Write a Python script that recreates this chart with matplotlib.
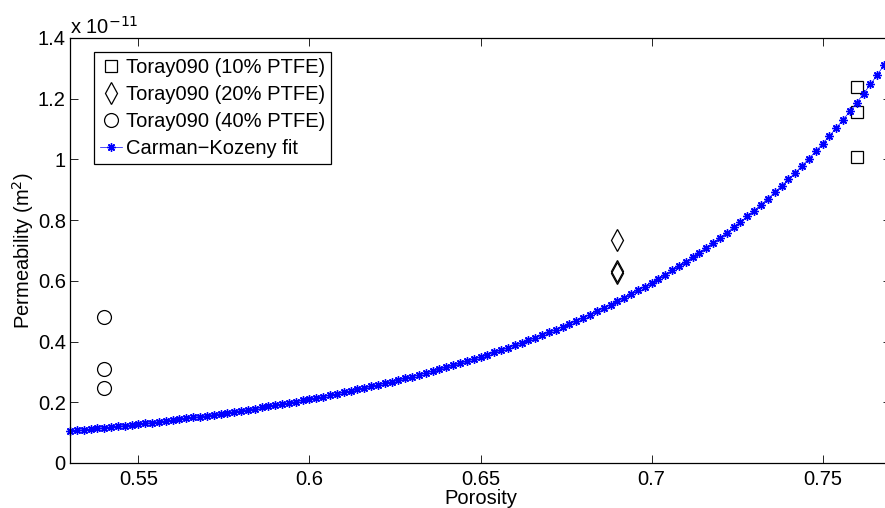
import numpy as np
import matplotlib.pyplot as plt

plt.rcParams["font.family"] = ["Liberation Sans", "DejaVu Sans"]

# MEASURED PERMEABILITY (units of 1e-11 m^2)
por_10 = [0.76, 0.76, 0.76]
perm_10 = [1.239, 1.157, 1.009]  # Toray090 10% PTFE
por_20 = [0.69, 0.69, 0.69]
perm_20 = [0.733, 0.633, 0.627]  # Toray090 20% PTFE
por_40 = [0.54, 0.54, 0.54]
perm_40 = [0.482, 0.309, 0.246]  # Toray090 40% PTFE

# CARMAN-KOZENY FIT (porosity step 0.002)
fit_por = np.linspace(0.53, 0.77, 121)
fit_perm = [
    0.1050, 0.1071, 0.1093, 0.1114, 0.1137, 0.1159, 0.1183, 0.1206, 0.1230, 0.1255,
    0.1280, 0.1306, 0.1332, 0.1358, 0.1386, 0.1413, 0.1442, 0.1470, 0.1500, 0.1530,
    0.1561, 0.1592, 0.1624, 0.1656, 0.1689, 0.1723, 0.1758, 0.1793, 0.1829, 0.1866,
    0.1904, 0.1942, 0.1981, 0.2021, 0.2062, 0.2103, 0.2146, 0.2189, 0.2234, 0.2279,
    0.2325, 0.2372, 0.2421, 0.2470, 0.2520, 0.2571, 0.2624, 0.2678, 0.2732, 0.2788,
    0.2846, 0.2904, 0.2964, 0.3025, 0.3088, 0.3151, 0.3217, 0.3283, 0.3352, 0.3421,
    0.3493, 0.3566, 0.3640, 0.3717, 0.3795, 0.3875, 0.3957, 0.4040, 0.4126, 0.4213,
    0.4303, 0.4395, 0.4489, 0.4585, 0.4683, 0.4784, 0.4887, 0.4993, 0.5101, 0.5212,
    0.5326, 0.5442, 0.5562, 0.5684, 0.5809, 0.5938, 0.6069, 0.6204, 0.6343, 0.6485,
    0.6631, 0.6780, 0.6933, 0.7090, 0.7252, 0.7417, 0.7587, 0.7762, 0.7941, 0.8125,
    0.8314, 0.8508, 0.8708, 0.8912, 0.9123, 0.9339, 0.9562, 0.9791, 1.0026, 1.0268,
    1.0517, 1.0773, 1.1036, 1.1307, 1.1586, 1.1874, 1.2170, 1.2475, 1.2789, 1.3112,
    1.3446,
]

x_ticks = [0.55, 0.6, 0.65, 0.7, 0.75]
x_ticklabels = ["0.55", "0.6", "0.65", "0.7", "0.75"]
y_ticks = [0, 0.2, 0.4, 0.6, 0.8, 1.0, 1.2, 1.4]
y_ticklabels = ["0", "0.2", "0.4", "0.6", "0.8", "1", "1.2", "1.4"]

fig = plt.figure(figsize=(8.85, 5.08), dpi=100)
ax = fig.add_axes([0.0791, 0.0886, 0.9277, 0.8366])

ax.plot(por_10, perm_10, "s", mfc="none", mec="black", ms=8, mew=0.9,
        label="Toray090 (10% PTFE)", clip_on=False)
ax.plot(por_20, perm_20, "d", mfc="none", mec="black", ms=11, mew=0.9,
        label="Toray090 (20% PTFE)", clip_on=False)
ax.plot(por_40, perm_40, "o", mfc="none", mec="black", ms=10, mew=0.9,
        label="Toray090 (40% PTFE)", clip_on=False)
ax.plot(fit_por, fit_perm, "-", marker=(8, 2, 0), color="blue", lw=0.5,
        ms=6, mew=1.0, label="Carman\u2212Kozeny fit", clip_on=False)

ax.set_xlim(0.53, 0.77)
ax.set_ylim(0, 1.4)
ax.set_xticks(x_ticks)
ax.set_xticklabels(x_ticklabels)
ax.set_yticks(y_ticks)
ax.set_yticklabels(y_ticklabels)
ax.tick_params(direction="in", length=6, width=0.6, labelsize=14.5,
               top=True, right=True)
ax.tick_params(axis="x", pad=5)
ax.tick_params(axis="y", pad=3)
for sp in ax.spines.values():
    sp.set_linewidth(0.9)

ax.text(0.0, 1.0, r"x 10$^{-11}$", transform=ax.transAxes,
        fontsize=14.5, ha="left", va="bottom")

ax.set_xlabel("Porosity", fontsize=14.5, labelpad=0)
ax.set_ylabel(r"Permeability (m$^2$)", fontsize=14.5, labelpad=1)

leg = ax.legend(loc="upper left", bbox_to_anchor=(0.029, 0.967),
                borderaxespad=0, fontsize=14.5, handlelength=1.1,
                handletextpad=0.2, borderpad=0.3, labelspacing=0.4,
                fancybox=False, framealpha=1, edgecolor="black")
leg.get_frame().set_linewidth(0.9)

plt.savefig("out.png", dpi=100)
